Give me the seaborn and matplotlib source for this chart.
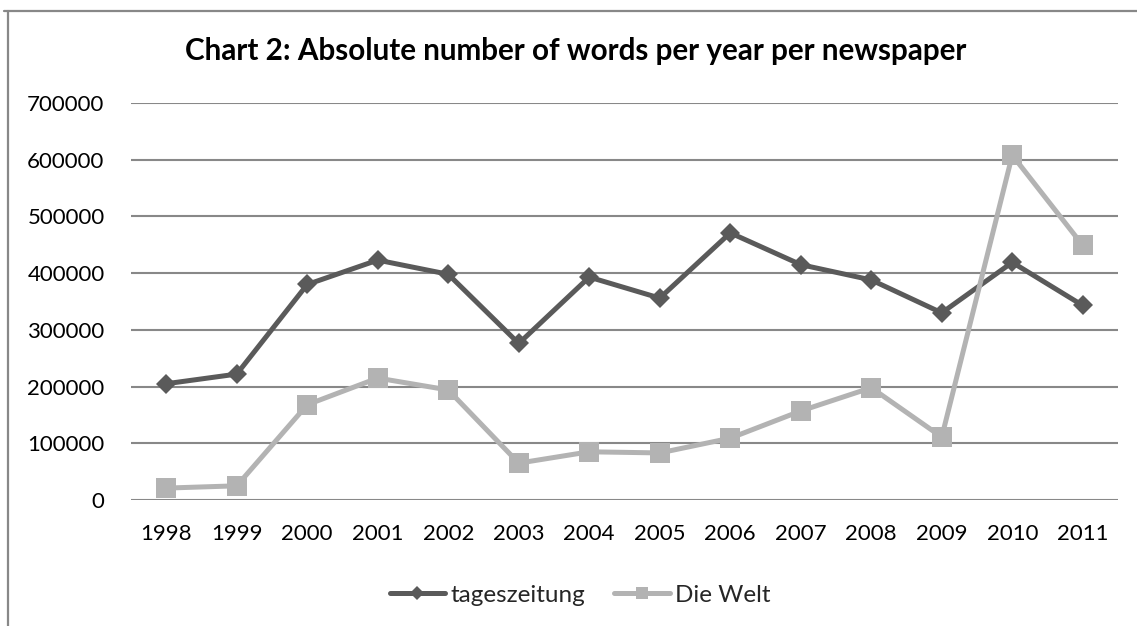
import matplotlib
matplotlib.use("Agg")
import matplotlib.pyplot as plt
import seaborn as sns
import pandas as pd
from matplotlib.lines import Line2D

years = [1998, 1999, 2000, 2001, 2002, 2003, 2004, 2005, 2006, 2007, 2008, 2009, 2010, 2011]
tageszeitung = [205000, 222000, 380000, 423000, 398000, 276000, 393000, 356000, 471000, 415000, 388000, 330000, 419000, 343000]
die_welt = [21000, 25000, 168000, 215000, 194000, 65000, 85000, 83000, 109000, 157000, 198000, 111000, 608000, 449000]
series_names = ["tageszeitung", "Die Welt"]
y_ticks = [0, 100000, 200000, 300000, 400000, 500000, 600000, 700000]
title = "Chart 2: Absolute number of words per year per newspaper"

df = pd.DataFrame({
    "year": years * 2,
    "value": tageszeitung + die_welt,
    "series": [series_names[0]] * len(years) + [series_names[1]] * len(years),
})

sns.set_theme(style="white")
plt.rcParams["font.family"] = ["Lato", "DejaVu Sans"]

W, H = 1137, 626
fig = plt.figure(figsize=(W / 100, H / 100), dpi=100)
ax = fig.add_axes([131 / W, 1 - 500 / H, (1118 - 131) / W, (500 - 103) / H])

colors = {"tageszeitung": "#5a5a5a", "Die Welt": "#b3b3b3"}
markers = {"tageszeitung": "D", "Die Welt": "s"}
sizes = {"tageszeitung": 10, "Die Welt": 14}
leg_sizes = {"tageszeitung": 7.5, "Die Welt": 9}

for name in series_names:
    sub = df[df["series"] == name]
    sns.lineplot(data=sub, x="year", y="value", ax=ax, color=colors[name],
                 marker=markers[name], markersize=sizes[name], markeredgewidth=0,
                 linewidth=3.6, label=name, legend=False, zorder=3)

ax.set_xlim(years[0] - 0.5, years[-1] + 0.5)
ax.set_ylim(0, 700000)
ax.set_yticks(y_ticks)
ax.set_yticklabels([str(v) for v in y_ticks])
ax.set_xticks(years)
ax.set_xticklabels([str(y) for y in years])
ax.grid(axis="y", color="#888888", linewidth=1.5)
ax.grid(axis="x", visible=False)
ax.set_axisbelow(True)
for s in ax.spines.values():
    s.set_visible(False)
ax.tick_params(axis="y", length=0, pad=19, labelsize=16, labelcolor="black")
ax.tick_params(axis="x", length=0, pad=17, labelsize=16, labelcolor="black")
ax.set_xlabel("")
ax.set_ylabel("")

fig.text(576 / W, 1 - 60 / H, title, ha="center", va="baseline",
         fontsize=21.3, fontweight="bold", color="black")

handles = [Line2D([], [], color=colors[n], marker=markers[n], markersize=leg_sizes[n],
                  markeredgewidth=0, linewidth=3.6) for n in series_names]
fig.legend(handles, series_names, loc="center", bbox_to_anchor=(580 / W, 1 - 595 / H),
           ncol=2, frameon=False, fontsize=17.5, handlelength=2.3, handletextpad=0.2,
           columnspacing=1.2)

# chart area border (visible on top and left)
fig.add_artist(Line2D([4 / W, 1], [1 - 11 / H, 1 - 11 / H], transform=fig.transFigure,
                      color="#888888", linewidth=1.6))
fig.add_artist(Line2D([8 / W, 8 / W], [1 - 11 / H, 0], transform=fig.transFigure,
                      color="#888888", linewidth=1.6))

fig.savefig("out.png", dpi=100)
